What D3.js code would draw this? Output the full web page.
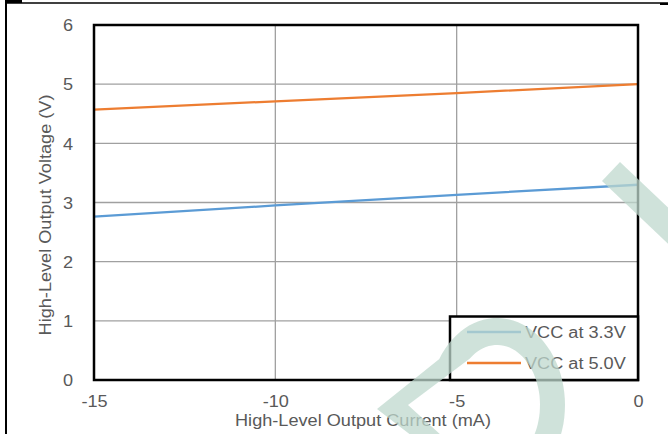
<!DOCTYPE html>
<html>
<head>
<meta charset="utf-8">
<script src="https://cdn.jsdelivr.net/npm/d3@7"></script>
<style>
  html, body { margin: 0; padding: 0; background: #fff; }
  svg { display: block; }
  text { font-family: "Liberation Sans", Arial, sans-serif; fill: #595959; }
</style>
</head>
<body>
<svg id="chart" width="668" height="434"></svg>
<script>
// ---- data ----
const currents = [-15, -10, -5, 0];
const vcc33 = [2.76, 2.95, 3.13, 3.30];
const vcc50 = [4.57, 4.71, 4.85, 5.00];
const seriesNames = ["VCC at 3.3V", "VCC at 5.0V"];
const xTicks = [-15, -10, -5, 0];
const yTicks = [0, 1, 2, 3, 4, 5, 6];
const xTitle = "High-Level Output Current (mA)";
const yTitle = "High-Level Output Voltage (V)";

// ---- layout ----
const svg = d3.select("#chart");
const L = 94, R = 638, T = 25, B = 380;
const FS = 16.2, SX = 1.12;
const x = d3.scaleLinear().domain([-15, 0]).range([L, R]);
const y = d3.scaleLinear().domain([0, 6]).range([B, T]);
const colors = ["#5b9bd5", "#ed7d31"];
const fmt = d => String(d);

// outer frame
svg.append("line").attr("x1", 6).attr("x2", 6).attr("y1", 0).attr("y2", 434)
  .attr("stroke", "#000").attr("stroke-width", 2);
svg.append("line").attr("x1", 6).attr("x2", 668).attr("y1", 3).attr("y2", 3)
  .attr("stroke", "#000").attr("stroke-width", 1.3);
svg.append("rect").attr("x", 5).attr("y", 0).attr("width", 17).attr("height", 3).attr("fill", "#000");
svg.append("rect").attr("x", 660).attr("y", 3).attr("width", 8).attr("height", 2).attr("fill", "#000");

// gridlines
const grid = svg.append("g");
grid.selectAll("line.h").data(yTicks.filter(d => d > 0 && d < 6)).join("line")
  .attr("x1", L).attr("x2", R).attr("y1", d => y(d)).attr("y2", d => y(d))
  .attr("stroke", "#a0a0a0").attr("stroke-width", 1.3);
grid.selectAll("line.v").data(xTicks.filter(d => d > -15 && d < 0)).join("line")
  .attr("y1", T).attr("y2", B).attr("x1", d => x(d)).attr("x2", d => x(d))
  .attr("stroke", "#a0a0a0").attr("stroke-width", 1.3);

// axes (labels only)
const xAxis = svg.append("g").attr("transform", `translate(0,${B})`)
  .call(d3.axisBottom(x).tickValues(xTicks).tickSize(0).tickFormat(fmt));
xAxis.select(".domain").remove();
xAxis.selectAll("text").attr("y", 27).attr("dy", 0)
  .attr("font-size", FS).attr("font-family", "Liberation Sans, Arial, sans-serif")
  .attr("transform", `scale(${SX},1)`).style("fill", "#595959");

const yAxis = svg.append("g").attr("transform", `translate(${L},0)`)
  .call(d3.axisLeft(y).tickValues(yTicks).tickSize(0).tickFormat(fmt));
yAxis.select(".domain").remove();
yAxis.selectAll("text").attr("x", -21 / SX).attr("dy", "0.35em")
  .attr("font-size", FS).attr("font-family", "Liberation Sans, Arial, sans-serif")
  .attr("transform", `scale(${SX},1)`).style("fill", "#595959");

// lines
const line = d3.line().x(d => x(d[0])).y(d => y(d[1]));
[vcc33, vcc50].forEach((vals, i) => {
  svg.append("path").datum(currents.map((c, j) => [c, vals[j]]))
    .attr("d", line).attr("fill", "none")
    .attr("stroke", colors[i]).attr("stroke-width", 2.3);
});

// plot border
svg.append("rect").attr("x", L).attr("y", T).attr("width", R - L).attr("height", B - T)
  .attr("fill", "none").attr("stroke", "#000").attr("stroke-width", 2.5);

// axis titles
svg.append("text").attr("transform", `translate(363,425.5) scale(${SX},1)`)
  .attr("text-anchor", "middle").attr("font-size", FS).text(xTitle);
svg.append("text").attr("transform", `translate(51,215) rotate(-90) scale(${SX},1)`)
  .attr("text-anchor", "middle").attr("font-size", FS).text(yTitle);

// legend
const lg = svg.append("g");
lg.append("rect").attr("x", 450).attr("y", 316.5).attr("width", R - 450).attr("height", B - 316.5)
  .attr("fill", "#fff").attr("stroke", "#000").attr("stroke-width", 2.5);
seriesNames.forEach((name, i) => {
  const ly = 332 + i * 31;
  lg.append("line").attr("x1", 467).attr("x2", 521).attr("y1", ly).attr("y2", ly)
    .attr("stroke", colors[i]).attr("stroke-width", 2.3);
  lg.append("text").attr("transform", `translate(525,${ly}) scale(${SX},1)`)
    .attr("dy", "0.35em").attr("font-size", FS).text(name);
});

// watermark (decorative logo shape)
function ellipsePts(cx, cy, rx, ry, a0, a1, n) {
  const pts = [];
  for (let k = 0; k <= n; k++) {
    const a = a0 + (a1 - a0) * k / n;
    pts.push([cx + rx * Math.cos(a), cy + ry * Math.sin(a)]);
  }
  return pts;
}
const deg = Math.PI / 180;
const outer = [[412, 436], [377, 409]].concat(ellipsePts(497, 405, 68, 87, -148 * deg, 21 * deg, 40));
const inner = [[442, 436], [408, 405]].concat(ellipsePts(497, 405, 43, 60, -129 * deg, 31 * deg, 40));
const toPath = pts => "M" + pts.map(p => p[0].toFixed(1) + "," + p[1].toFixed(1)).join("L") + "Z";
const wm = svg.append("g").attr("fill", "rgb(190,216,205)").attr("fill-opacity", 0.74);
wm.append("path").attr("fill-rule", "evenodd").attr("d", toPath(outer) + " " + toPath(inner));
wm.append("path").attr("d", "M620,162 L700,238 L700,274 L602,181 Z");
</script>
</body>
</html>
